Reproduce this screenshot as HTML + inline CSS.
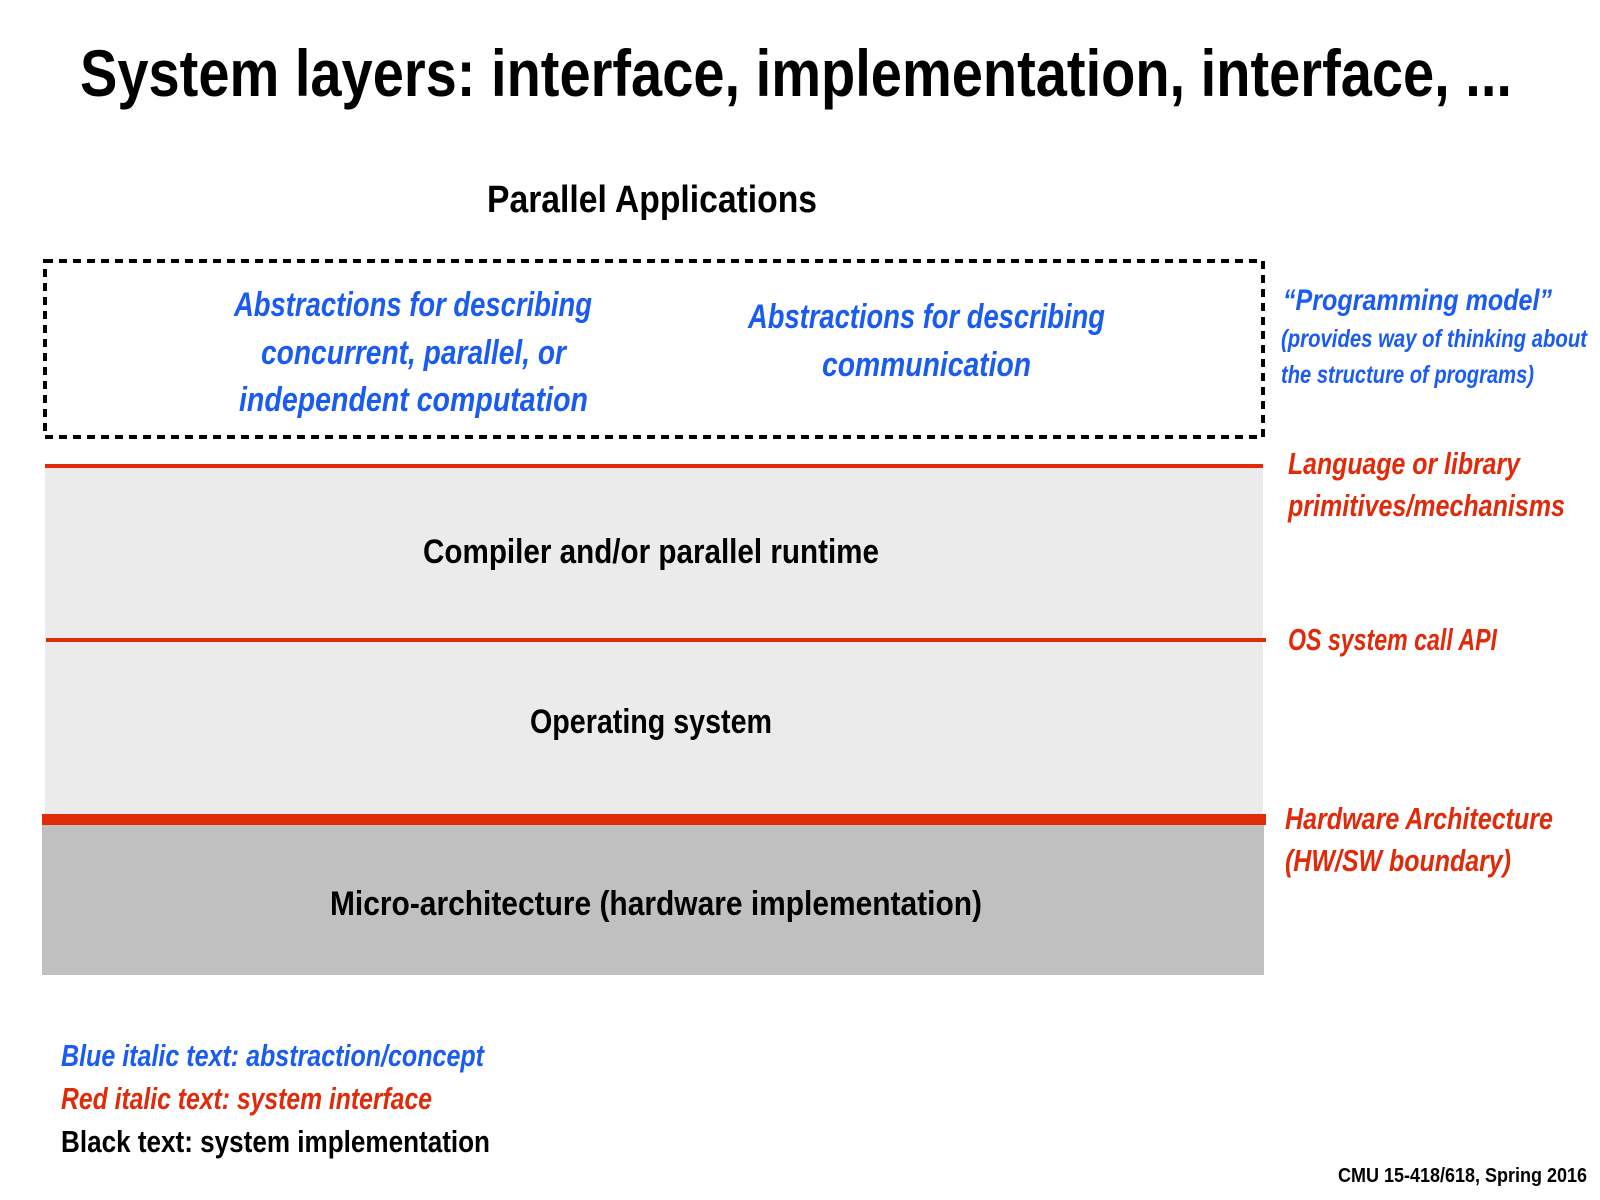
<!DOCTYPE html>
<html><head><meta charset="utf-8"><style>
html,body{margin:0;padding:0;background:#fff;}
svg{display:block;}
text{font-family:"Liberation Sans",sans-serif;font-weight:bold;}
.b{fill:#1a5cf0;font-style:italic;}
.r{fill:#e02a0a;font-style:italic;}
.k{fill:#000;}
</style></head><body>
<svg width="1600" height="1200" viewBox="0 0 1600 1200" xmlns="http://www.w3.org/2000/svg">
<rect width="1600" height="1200" fill="#fff"/>
<text class="k" x="80" y="96" font-size="66" textLength="1432" lengthAdjust="spacingAndGlyphs">System layers: interface, implementation, interface, ...</text>
<text class="k" x="487" y="212" font-size="38" textLength="330" lengthAdjust="spacingAndGlyphs">Parallel Applications</text>
<rect x="45" y="261" width="1218" height="176" fill="none" stroke="#000" stroke-width="4" stroke-dasharray="8,6"/>
<text class="b" x="234" y="316" font-size="34" textLength="358" lengthAdjust="spacingAndGlyphs">Abstractions for describing</text>
<text class="b" x="261" y="364" font-size="34" textLength="305" lengthAdjust="spacingAndGlyphs">concurrent, parallel, or</text>
<text class="b" x="239" y="411" font-size="34" textLength="349" lengthAdjust="spacingAndGlyphs">independent computation</text>
<text class="b" x="748" y="328" font-size="34" textLength="357" lengthAdjust="spacingAndGlyphs">Abstractions for describing</text>
<text class="b" x="822" y="376" font-size="34" textLength="209" lengthAdjust="spacingAndGlyphs">communication</text>
<text class="b" x="1283" y="310" font-size="30" textLength="269" lengthAdjust="spacingAndGlyphs">“Programming model”</text>
<text class="b" x="1281" y="347" font-size="25" textLength="306" lengthAdjust="spacingAndGlyphs">(provides way of thinking about</text>
<text class="b" x="1281" y="383" font-size="25" textLength="253" lengthAdjust="spacingAndGlyphs">the structure of programs)</text>
<rect x="45" y="467" width="1218" height="348" fill="#ebebeb"/>
<rect x="45" y="464" width="1218" height="4" fill="#e02a0a"/>
<rect x="46" y="638" width="1220" height="4" fill="#e02a0a"/>
<rect x="42" y="825" width="1222" height="150" fill="#c0c0c0"/>
<rect x="42" y="814" width="1224" height="11" fill="#e02a0a"/>
<text class="k" x="423" y="563" font-size="34" textLength="456" lengthAdjust="spacingAndGlyphs">Compiler and/or parallel runtime</text>
<text class="k" x="530" y="733" font-size="34" textLength="242" lengthAdjust="spacingAndGlyphs">Operating system</text>
<text class="k" x="330" y="915" font-size="34" textLength="652" lengthAdjust="spacingAndGlyphs">Micro-architecture (hardware implementation)</text>
<text class="r" x="1288" y="474" font-size="31" textLength="232" lengthAdjust="spacingAndGlyphs">Language or library</text>
<text class="r" x="1288" y="516" font-size="31" textLength="277" lengthAdjust="spacingAndGlyphs">primitives/mechanisms</text>
<text class="r" x="1288" y="650" font-size="31" textLength="209" lengthAdjust="spacingAndGlyphs">OS system call API</text>
<text class="r" x="1285" y="829" font-size="31" textLength="268" lengthAdjust="spacingAndGlyphs">Hardware Architecture</text>
<text class="r" x="1285" y="871" font-size="31" textLength="226" lengthAdjust="spacingAndGlyphs">(HW/SW boundary)</text>
<text class="b" x="61" y="1066" font-size="31" textLength="423" lengthAdjust="spacingAndGlyphs">Blue italic text: abstraction/concept</text>
<text class="r" x="61" y="1109" font-size="31" textLength="371" lengthAdjust="spacingAndGlyphs">Red italic text: system interface</text>
<text class="k" x="61" y="1152" font-size="31" textLength="429" lengthAdjust="spacingAndGlyphs">Black text: system implementation</text>
<text class="k" x="1338" y="1182" font-size="20" textLength="249" lengthAdjust="spacingAndGlyphs">CMU 15-418/618, Spring 2016</text>
</svg>
</body></html>
